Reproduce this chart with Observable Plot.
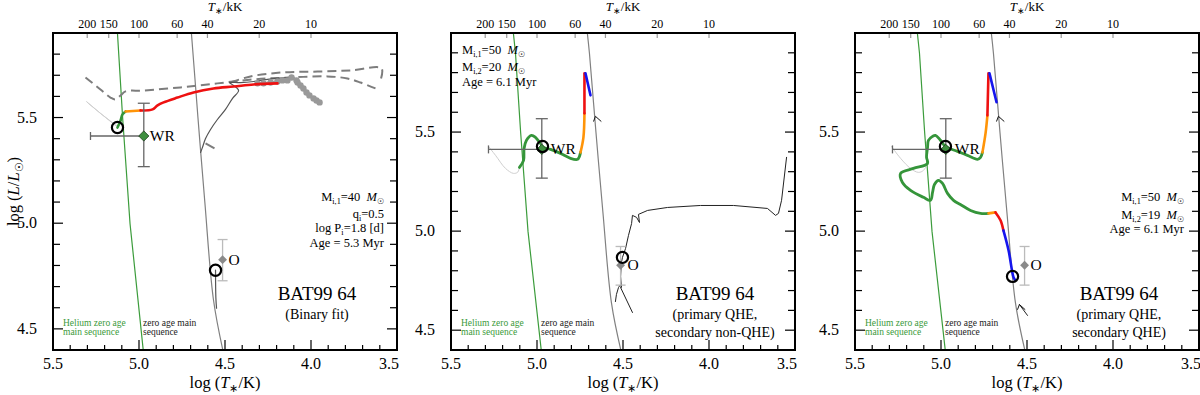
<!DOCTYPE html>
<html><head><meta charset="utf-8">
<script src="https://cdn.jsdelivr.net/npm/d3@7"></script>
<script src="https://cdn.jsdelivr.net/npm/@observablehq/plot@0.6"></script>
<style>
html,body{margin:0;padding:0;background:#fff;}
#wrap{position:relative;width:1200px;height:395px;overflow:hidden;background:#fff;}
.panel{position:absolute;top:0;width:400px;height:395px;overflow:hidden;}
.panel svg{display:block;overflow:hidden;background:transparent;}
</style></head><body><div id="wrap"></div>
<script>
const FONT = "Liberation Serif";

// ---------- axis ticks ----------
const logTTicks = [5.5, 5.0, 4.5, 4.0, 3.5];
const logTMinor = [5.4, 5.3, 5.2, 5.1, 4.9, 4.8, 4.7, 4.6, 4.4, 4.3, 4.2, 4.1, 3.9, 3.8, 3.7, 3.6];
const logLTicks = [4.5, 5.0, 5.5];
const logLMinor = [4.6, 4.7, 4.8, 4.9, 5.1, 5.2, 5.3, 5.4, 5.6, 5.7, 5.8, 5.9];
const tempKK = [200, 150, 100, 60, 40, 20, 10];

// ---------- reference sequences ----------
const heZamsLogT = [5.140, 5.128, 5.098, 5.055, 4.978];
const heZamsLogL = [6.0, 5.9, 5.5, 5.0, 4.4];
const zamsLogT = [4.710, 4.698, 4.660, 4.620, 4.570, 4.515];
const zamsLogL = [6.0, 5.9, 5.5, 5.1, 4.64, 4.4];

// ---------- observed stars ----------
const starNames = ["WR", "O"];
const starLogT = [4.975, 4.517];
const starLogL = [5.415, 4.830];
const starLogTHot = [5.285, 4.517];
const starLogLLo = [5.27, 4.730];
const starLogLHi = [5.57, 4.925];

// ---------- model positions (circles) ----------
const modelWRLogT = [5.128, 4.971, 4.977];
const modelWRLogL = [5.455, 5.430, 5.430];
const modelOLogT = [4.558, 4.506, 4.587];
const modelOLogL = [4.780, 4.870, 4.774];

// ---------- panel 1: binary fit ----------
const p1GreyT = [5.128, 5.227, 5.308, 5.297, 5.198, 5.140];
const p1GreyL = [5.460, 5.522, 5.578, 5.569, 5.503, 5.465];
const p1GreenT = [5.128, 5.110, 5.099, 5.081];
const p1GreenL = [5.455, 5.488, 5.517, 5.531];
const p1OrangeT = [5.081, 4.994];
const p1OrangeL = [5.531, 5.536];
const p1RedT = [4.994, 4.924, 4.895, 4.860, 4.779, 4.686, 4.570, 4.453, 4.337, 4.198];
const p1RedL = [5.536, 5.541, 5.560, 5.574, 5.597, 5.621, 5.640, 5.649, 5.659, 5.664];
const p1DotsT = [4.314, 4.279, 4.238, 4.198, 4.169, 4.140, 4.116, 4.087, 4.081, 4.064, 4.047, 4.029, 4.012, 3.988, 3.971, 3.953];
const p1DotsL = [5.664, 5.664, 5.668, 5.673, 5.678, 5.678, 5.692, 5.678, 5.668, 5.654, 5.640, 5.621, 5.607, 5.593, 5.583, 5.574];
const s1T = [4.645, 4.634, 4.616, 4.587, 4.547, 4.500, 4.459, 4.424, 4.453, 4.477, 4.413, 4.337, 4.256, 4.122];
const s1L = [5.337, 5.361, 5.403, 5.446, 5.493, 5.541, 5.593, 5.630, 5.654, 5.668, 5.668, 5.673, 5.683, 5.692];
const s1bT = [4.558, 4.556, 4.552];
const s1bL = [4.780, 4.650, 4.600];
const d1aT = [5.314, 5.227, 5.169, 5.140, 5.110, 5.081, 4.977, 4.762, 4.547, 4.337, 4.122, 3.907, 3.791, 3.715, 3.628];
const d1aL = [5.692, 5.635, 5.597, 5.588, 5.607, 5.626, 5.630, 5.645, 5.664, 5.683, 5.692, 5.697, 5.687, 5.668, 5.640];
const d1bT = [4.471, 4.355, 4.163, 3.965, 3.773, 3.593, 3.599];
const d1bL = [5.668, 5.697, 5.716, 5.720, 5.725, 5.735, 5.678];
const d1cT = [4.616, 4.564];
const d1cL = [5.380, 5.356];

// ---------- panel 2: primary QHE, secondary non-QHE ----------
const p2GreyT = [5.285, 5.244, 5.186, 5.140, 5.115, 5.105];
const p2GreyL = [5.430, 5.385, 5.319, 5.294, 5.300, 5.324];
const p2GreenT = [5.105, 5.081, 5.078, 5.064, 5.035, 5.012, 4.983, 4.965, 4.924, 4.866, 4.808, 4.767, 4.756, 4.750];
const p2GreenL = [5.324, 5.360, 5.420, 5.461, 5.486, 5.476, 5.445, 5.425, 5.415, 5.395, 5.370, 5.365, 5.380, 5.400];
const p2OrangeT = [4.750, 4.733, 4.727];
const p2OrangeL = [5.400, 5.476, 5.597];
const p2RedT = [4.727, 4.727];
const p2RedL = [5.597, 5.799];
const p2BlueT = [4.721, 4.692];
const p2BlueL = [5.799, 5.688];
const s2T = [4.547, 4.541, 4.529, 4.517, 4.512, 4.517, 4.512, 4.506, 4.488, 4.471, 4.453, 4.448, 4.424, 4.407, 4.413, 4.360, 4.244, 4.052, 3.860, 3.663, 3.616, 3.599, 3.581, 3.552];
const s2L = [4.647, 4.683, 4.718, 4.733, 4.718, 4.774, 4.844, 4.870, 4.915, 4.981, 5.041, 5.082, 5.072, 5.046, 5.087, 5.107, 5.122, 5.132, 5.132, 5.117, 5.082, 5.092, 5.158, 5.375];
const s2bT = [4.517, 4.448];
const s2bL = [4.718, 4.592];
const p2MarkT = [4.663];
const p2MarkL = [5.582];

// ---------- panel 3: primary QHE, secondary QHE ----------
const p3GreyT = [5.291, 5.238, 5.180, 5.134, 5.105, 5.081];
const p3GreyL = [5.430, 5.370, 5.319, 5.299, 5.309, 5.344];
const p3BlueT = [4.721, 4.680];
const p3BlueL = [5.799, 5.653];
const p3RedT = [4.727, 4.733];
const p3RedL = [5.799, 5.587];
const p3OrangeT = [4.733, 4.744, 4.762];
const p3OrangeL = [5.587, 5.496, 5.400];
const p3GreenT = [4.762, 4.773, 4.791, 4.849, 4.907, 4.977, 5.006, 5.035, 5.052, 5.076, 5.081, 5.087, 5.081, 5.163, 5.238, 5.227, 5.180, 5.105, 5.064, 5.052, 5.041, 5.017, 4.994, 4.965, 4.930, 4.890, 4.831, 4.773, 4.727];
const p3GreenL = [5.400, 5.375, 5.365, 5.385, 5.405, 5.430, 5.461, 5.486, 5.481, 5.461, 5.425, 5.375, 5.344, 5.319, 5.294, 5.248, 5.208, 5.173, 5.158, 5.198, 5.238, 5.259, 5.243, 5.193, 5.158, 5.137, 5.107, 5.092, 5.092];
const p3Orange2T = [4.727, 4.686];
const p3Orange2L = [5.092, 5.097];
const p3Red2T = [4.686, 4.657, 4.640];
const p3Red2L = [5.097, 5.057, 5.006];
const p3Blue2T = [4.640, 4.610, 4.581, 4.570];
const p3Blue2L = [5.006, 4.905, 4.769, 4.754];
const s3T = [4.547, 4.500];
const s3L = [4.632, 4.577];
const p3MarkT = [4.669, 4.547];
const p3MarkL = [5.582, 4.632];

// ---------- texts ----------
const targetName = "BAT99 64";
const subtitles = [["(Binary fit)"], ["(primary QHE,", "secondary non-QHE)"], ["(primary QHE,", "secondary QHE)"]];
const infoTexts = [
  [[["M"], ["i,1", "s"], ["=40  "], ["M", "i"], ["☉", "s"]],
   [["q"], ["i", "s"], ["=0.5"]],
   [["log P"], ["i", "s"], ["=1.8 [d]"]],
   [["Age = 5.3 Myr"]]],
  [[["M"], ["i,1", "s"], ["=50  "], ["M", "i"], ["☉", "s"]],
   [["M"], ["i,2", "s"], ["=20  "], ["M", "i"], ["☉", "s"]],
   [["Age = 6.1 Myr"]]],
  [[["M"], ["i,1", "s"], ["=50  "], ["M", "i"], ["☉", "s"]],
   [["M"], ["i,2", "s"], ["=19  "], ["M", "i"], ["☉", "s"]],
   [["Age = 6.1 Myr"]]]
];
const heLegend = ["Helium zero age", "main sequence"];
const hLegend = ["zero age main", "sequence"];

// ---------- helpers ----------
function addRich(g, x, y, parts, o = {}) {
  const size = o.size || 12;
  const t = g.append("text").attr("x", x).attr("y", y)
    .attr("font-size", size).attr("font-family", FONT)
    .attr("text-anchor", o.anchor || "start").attr("fill", o.fill || "#000")
    .attr("stroke", "none");
  if (o.rotate != null) t.attr("transform", `rotate(${o.rotate},${x},${y})`);
  let shift = 0;
  for (const [s, st = ""] of parts) {
    const sub = st.includes("s");
    const target = sub ? size * 0.25 : 0;
    const ts = t.append("tspan").text(s);
    if (target - shift !== 0) ts.attr("dy", target - shift);
    shift = target;
    if (sub) ts.attr("font-size", size * 0.66);
    if (st.includes("i")) ts.attr("font-style", "italic");
  }
  return t;
}

const hCap = {draw(ctx, size) { const r = Math.sqrt(size / Math.PI); ctx.moveTo(-r, 0); ctx.lineTo(r, 0); }};
const vCap = {draw(ctx, size) { const r = Math.sqrt(size / Math.PI); ctx.moveTo(0, -r); ctx.lineTo(0, r); }};
const chevron = {draw(ctx, size) { const r = Math.sqrt(size / Math.PI); ctx.moveTo(-1.5 * r, 4 * r); ctx.lineTo(0, 0); ctx.lineTo(4.5 * r, 4 * r); }};

function line(T, L, o) {
  return Plot.line(T, {x: T, y: L, stroke: o.stroke, strokeWidth: o.w || 1, strokeDasharray: o.dash,
    curve: o.curve || "catmull-rom", strokeLinejoin: "round", strokeLinecap: o.cap || "round", clip: true});
}

function frameAndAxes(p) {
  return (index, scales, values, dims) => {
    const x = scales.x, y = scales.y;
    const L = dims.marginLeft, R = dims.width - dims.marginRight;
    const T = dims.marginTop, B = dims.height - dims.marginBottom;
    const [y0, y1] = p.yDomain;
    const g = d3.create("svg:g");
    const tk = g.append("g").attr("stroke", "#000").attr("stroke-width", 1.2).attr("fill", "none");
    const ln = (a, b, c, d, col) => { const l = tk.append("line").attr("x1", a).attr("y1", b).attr("x2", c).attr("y2", d); if (col) l.attr("stroke", col); };
    for (const v of logTTicks) ln(x(v), B, x(v), B - 10);
    for (const v of logTMinor) ln(x(v), B, x(v), B - 5);
    for (const k of tempKK) { const v = x(Math.log10(k * 1000)); ln(v, T, v, T + 5, "#999"); }
    const inside = v => v > y0 + 1e-6 && v < y1 - 1e-6;
    for (const v of logLTicks) if (inside(v)) { ln(L, y(v), L + 10, y(v)); ln(R, y(v), R - 10, y(v)); }
    for (const v of logLMinor) if (inside(v)) { ln(L, y(v), L + 7, y(v)); ln(R, y(v), R - 7, y(v)); }
    g.append("rect").attr("x", L).attr("y", T).attr("width", R - L).attr("height", B - T)
      .attr("fill", "none").attr("stroke", "#000").attr("stroke-width", 2);
    logTTicks.forEach((v, i) => {
      const last = i === logTTicks.length - 1;
      addRich(g, last ? x(v) + 2 : x(v), B + 19, [[v.toFixed(1)]], {size: 16, anchor: last ? "end" : "middle"});
    });
    for (const v of logLTicks) addRich(g, L - 16, y(v) + 5, [[v.toFixed(1)]], {size: 16, anchor: "end"});
    for (const k of tempKK) addRich(g, x(Math.log10(k * 1000)), T - 5, [[String(k)]], {size: 12, anchor: "middle"});
    addRich(g, (L + R) / 2, 11, [["T", "i"], ["∗", "s"], ["/kK"]], {size: 13, anchor: "middle"});
    addRich(g, (L + R) / 2, B + 38, [["log ("], ["T", "i"], ["∗", "s"], ["/K)"]], {size: 16.5, anchor: "middle"});
    if (p.yLabel) addRich(g, 19, (T + B) / 2, [["log ("], ["L", "i"], ["/"], ["L", "i"], ["☉", "s"], [")"]], {size: 16.5, anchor: "middle", rotate: -90});
    return g.node();
  };
}

function annotations(p) {
  return (index, scales, values, dims) => {
    const L = dims.marginLeft, R = dims.width - dims.marginRight;
    const g = d3.create("svg:g");
    addRich(g, L + 264, 300, [[targetName]], {size: 19, anchor: "middle"});
    p.subtitle.forEach((s, i) => addRich(g, L + 264, 319 + 18 * i, [[s]], {size: 14, anchor: "middle"}));
    p.info.forEach((parts, i) => addRich(g, p.infoRight ? R - p.infoInset : L + p.infoInset, p.infoY[i], parts, {size: 12.5, anchor: p.infoRight ? "end" : "start"}));
    heLegend.forEach((s, i) => addRich(g, L + 10, 326 + 9 * i, [[s]], {size: 9.5, fill: "#3a9a3a"}));
    hLegend.forEach((s, i) => addRich(g, L + 90, 326 + 9 * i, [[s]], {size: 9.5, fill: "#222"}));
    return g.node();
  };
}

function makePanel(p) {
  const marks = [
    line(heZamsLogT, heZamsLogL, {stroke: "#3c9c3c", w: 1.2, curve: "linear"}),
    line(zamsLogT, zamsLogL, {stroke: "#808080", w: 1.2})
  ];
  for (const t of p.tracks) {
    if (t.dots) {
      marks.push(line(t.T, t.L, {stroke: t.stroke, w: 2.5}));
      marks.push(Plot.dot(t.T, {x: t.T, y: t.L, r: 3.2, fill: t.stroke, stroke: "none"}));
    } else marks.push(line(t.T, t.L, t));
  }
  if (p.markT) marks.push(Plot.dot(p.markT, {x: p.markT, y: p.markL, symbol: chevron, r: 1.3, stroke: "#111", strokeWidth: 1, fill: "none"}));
  const wr = [0], o = [1];
  marks.push(
    Plot.link(o, {x1: i => starLogT[i], x2: i => starLogT[i], y1: i => starLogLLo[i], y2: i => starLogLHi[i], stroke: "#bbb", strokeWidth: 1.3}),
    Plot.dot(o, {x: i => starLogT[i], y: i => starLogLLo[i], symbol: hCap, r: 5, stroke: "#bbb", strokeWidth: 1.3, fill: "none"}),
    Plot.dot(o, {x: i => starLogT[i], y: i => starLogLHi[i], symbol: hCap, r: 5, stroke: "#bbb", strokeWidth: 1.3, fill: "none"}),
    Plot.link(wr, {x1: i => starLogT[i], x2: i => starLogT[i], y1: i => starLogLLo[i], y2: i => starLogLHi[i], stroke: "#666", strokeWidth: 1.3}),
    Plot.link(wr, {x1: i => starLogTHot[i], x2: i => starLogT[i], y1: i => starLogL[i], y2: i => starLogL[i], stroke: "#666", strokeWidth: 1.3}),
    Plot.dot(wr, {x: i => starLogT[i], y: i => starLogLLo[i], symbol: hCap, r: 6, stroke: "#666", strokeWidth: 1.3, fill: "none"}),
    Plot.dot(wr, {x: i => starLogT[i], y: i => starLogLHi[i], symbol: hCap, r: 6, stroke: "#666", strokeWidth: 1.3, fill: "none"}),
    Plot.dot(wr, {x: i => starLogTHot[i], y: i => starLogL[i], symbol: vCap, r: 4, stroke: "#666", strokeWidth: 1.3, fill: "none"}),
    Plot.dot(wr, {x: i => starLogT[i], y: i => starLogL[i], symbol: "diamond2", r: 4.6, fill: "#3f8f3f", stroke: "#1d3d1d", strokeWidth: 0.8}),
    Plot.dot(o, {x: i => starLogT[i], y: i => starLogL[i], symbol: "diamond2", r: 4, fill: "#8a8a8a", stroke: "none"}),
    Plot.dot([p.k], {x: i => modelWRLogT[i], y: i => modelWRLogL[i], r: 5.6, stroke: "#000", strokeWidth: 2.2, fill: "none"}),
    Plot.dot([p.k], {x: i => modelOLogT[i], y: i => modelOLogL[i], r: 5.6, stroke: "#000", strokeWidth: 2.2, fill: "none"}),
    Plot.text(wr, {x: i => starLogT[i], y: i => starLogL[i], text: i => starNames[i], dx: p.wrDx, textAnchor: "start", fontSize: 15.5, fill: "#000"}),
    Plot.text(o, {x: i => starLogT[i], y: i => starLogL[i], text: i => starNames[i], dx: p.oDx, textAnchor: "start", fontSize: 15.5, fill: "#000"}),
    annotations(p),
    frameAndAxes(p)
  );
  return Plot.plot({
    width: 400, height: 395,
    marginLeft: 53, marginRight: 3, marginTop: 33, marginBottom: 45,
    x: {domain: [5.5, 3.5], axis: null},
    y: {domain: p.yDomain, axis: null},
    style: {background: "transparent", fontFamily: FONT, overflow: "hidden"},
    marks
  });
}

const GREEN = "#35953a", RED = "#ee1111", ORANGE = "#ff9408", BLUE = "#1515ee";

const panels = [
  {k: 0, left: 0, yDomain: [4.4, 5.9], yLabel: true, subtitle: subtitles[0], info: infoTexts[0],
   infoRight: true, infoInset: 13, infoY: [201, 218, 232, 247], wrDx: 6, oDx: 6,
   tracks: [
     {T: d1aT, L: d1aL, stroke: "#7d7d7d", w: 2, dash: "9,5", cap: "butt"},
     {T: d1bT, L: d1bL, stroke: "#7d7d7d", w: 2, dash: "9,5", cap: "butt"},
     {T: d1cT, L: d1cL, stroke: "#7d7d7d", w: 2, cap: "butt"},
     {T: s1T, L: s1L, stroke: "#555", w: 1.2},
     {T: s1bT, L: s1bL, stroke: "#555", w: 1.2},
     {T: p1GreyT, L: p1GreyL, stroke: "#cfcfcf", w: 1, curve: "linear"},
     {T: p1DotsT, L: p1DotsL, stroke: "#999", dots: true},
     {T: p1GreenT, L: p1GreenL, stroke: GREEN, w: 2.6},
     {T: p1OrangeT, L: p1OrangeL, stroke: ORANGE, w: 2.6},
     {T: p1RedT, L: p1RedL, stroke: RED, w: 2.6}
   ]},
  {k: 1, left: 398, yDomain: [4.4, 6.0], yLabel: false, subtitle: subtitles[1], info: infoTexts[1],
   infoRight: false, infoInset: 11, infoY: [54, 71, 86], wrDx: 9, oDx: 7,
   markT: p2MarkT, markL: p2MarkL,
   tracks: [
     {T: s2T, L: s2L, stroke: "#222", w: 1, curve: "linear"},
     {T: s2bT, L: s2bL, stroke: "#222", w: 1, curve: "linear"},
     {T: p2GreyT, L: p2GreyL, stroke: "#cfcfcf", w: 1},
     {T: p2GreenT, L: p2GreenL, stroke: GREEN, w: 2.8},
     {T: p2OrangeT, L: p2OrangeL, stroke: ORANGE, w: 2.6},
     {T: p2RedT, L: p2RedL, stroke: RED, w: 2.6, curve: "linear"},
     {T: p2BlueT, L: p2BlueL, stroke: BLUE, w: 2.6, curve: "linear"}
   ]},
  {k: 2, left: 802, yDomain: [4.4, 6.0], yLabel: false, subtitle: subtitles[2], info: infoTexts[2],
   infoRight: true, infoInset: 15, infoY: [201, 219, 233], wrDx: 9, oDx: 6,
   markT: p3MarkT, markL: p3MarkL,
   tracks: [
     {T: s3T, L: s3L, stroke: "#222", w: 1, curve: "linear"},
     {T: p3GreyT, L: p3GreyL, stroke: "#cfcfcf", w: 1},
     {T: p3GreenT, L: p3GreenL, stroke: GREEN, w: 2.8},
     {T: p3Orange2T, L: p3Orange2L, stroke: ORANGE, w: 2.6},
     {T: p3Red2T, L: p3Red2L, stroke: RED, w: 2.6},
     {T: p3Blue2T, L: p3Blue2L, stroke: BLUE, w: 2.6},
     {T: p3OrangeT, L: p3OrangeL, stroke: ORANGE, w: 2.6},
     {T: p3RedT, L: p3RedL, stroke: RED, w: 2.6, curve: "linear"},
     {T: p3BlueT, L: p3BlueL, stroke: BLUE, w: 2.6, curve: "linear"}
   ]}
];

const wrap = document.getElementById("wrap");
for (const p of panels) {
  const div = document.createElement("div");
  div.className = "panel";
  div.style.left = p.left + "px";
  div.appendChild(makePanel(p));
  wrap.appendChild(div);
}
</script></body></html>
